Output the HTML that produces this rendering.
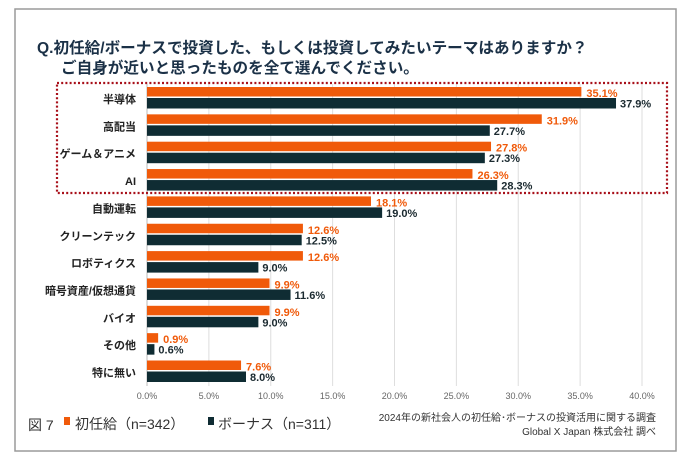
<!DOCTYPE html>
<html><head><meta charset="utf-8"><style>
body{margin:0;background:#fff;}
svg text{font-family:"Liberation Sans","Noto Sans CJK JP",sans-serif;}
</style></head><body>
<svg id="chart" width="685" height="464" xmlns="http://www.w3.org/2000/svg">
<rect x="15" y="9" width="661" height="442" fill="#fff" stroke="#9a9a9a" stroke-width="1.5"/>
<text x="37" y="53" font-size="15.6" font-weight="bold" fill="#1b3147">Q.初任給/ボーナスで投資した、もしくは投資してみたいテーマはありますか？</text>
<text x="61" y="73" font-size="15.6" font-weight="bold" fill="#1b3147">ご自身が近いと思ったものを全て選んでください。</text>
<g id="grid"></g>
<g id="bars"></g>
<rect x="57" y="83" width="610" height="110" fill="none" stroke="#a8101a" stroke-width="2.2" stroke-dasharray="2,2.2"/>
<text x="28" y="430" font-size="14" fill="#333" font-family="Liberation Serif">図 7</text>
<rect x="64" y="417" width="6" height="8" fill="#f05a0a"/>
<text x="75" y="429" font-size="14" fill="#333">初任給（n=342）</text>
<rect x="208" y="417" width="6" height="8" fill="#0f2c33"/>
<text x="218" y="429" font-size="14" fill="#333">ボーナス（n=311）</text>
<text x="656" y="421" font-size="10" fill="#333" text-anchor="end">2024年の新社会人の初任給･ボーナスの投資活用に関する調査</text>
<text x="656" y="435" font-size="10" fill="#333" text-anchor="end">Global X Japan 株式会社 調べ</text>
</svg>
<script>
const categories=["半導体","高配当","ゲーム＆アニメ","AI","自動運転","クリーンテック","ロボティクス","暗号資産/仮想通貨","バイオ","その他","特に無い"];
const salaryValues=[35.1,31.9,27.8,26.3,18.1,12.6,12.6,9.9,9.9,0.9,7.6];
const bonusValues=[37.9,27.7,27.3,28.3,19.0,12.5,9.0,11.6,9.0,0.6,8.0];
const tickValues=[0,5,10,15,20,25,30,35,40];
const NS="http://www.w3.org/2000/svg";
const x=v=>147+v*12.375;
const rowY=i=>99+i*27.35;
const grid=document.getElementById('grid'),bars=document.getElementById('bars');
function mk(tag,attrs,parent){const e=document.createElementNS(NS,tag);for(const k in attrs)e.setAttribute(k,attrs[k]);parent.appendChild(e);return e;}
tickValues.forEach(t=>{
 const l=mk('line',{x1:x(t),x2:x(t),y1:84,y2:386,stroke:t===0?'#bbb':'#dedede','stroke-width':1},grid);
 
 
 const tx=mk('text',{x:x(t),y:399,'font-size':9,fill:'#666','text-anchor':'middle'},grid);
 tx.textContent=t.toFixed(1)+'%';
 
 
});
categories.forEach((c,i)=>{
 const y=rowY(i);
 const lab=mk('text',{x:136,y:y+4,'font-size':11,'font-weight':'bold',fill:'#222','text-anchor':'end'},bars);
 lab.textContent=c;
 
 
 const b1=mk('rect',{x:x(0),y:y-12,width:x(salaryValues[i])-x(0),height:9.5,fill:'#f05a0a'},bars);
 
 
 const b2=mk('rect',{x:x(0),y:y-1,width:x(bonusValues[i])-x(0),height:10.5,fill:'#0f2c33'},bars);
 
 
 const t1=mk('text',{x:x(salaryValues[i])+5,y:y-2,'font-size':11,'font-weight':'bold',fill:'#f05a0a'},bars);
 t1.textContent=salaryValues[i].toFixed(1)+'%';
 
 
 const t2=mk('text',{x:x(bonusValues[i])+4,y:y+8.5,'font-size':11,'font-weight':'bold',fill:'#1b2a30'},bars);
 t2.textContent=bonusValues[i].toFixed(1)+'%';
 
 
});
</script>
</body></html>
